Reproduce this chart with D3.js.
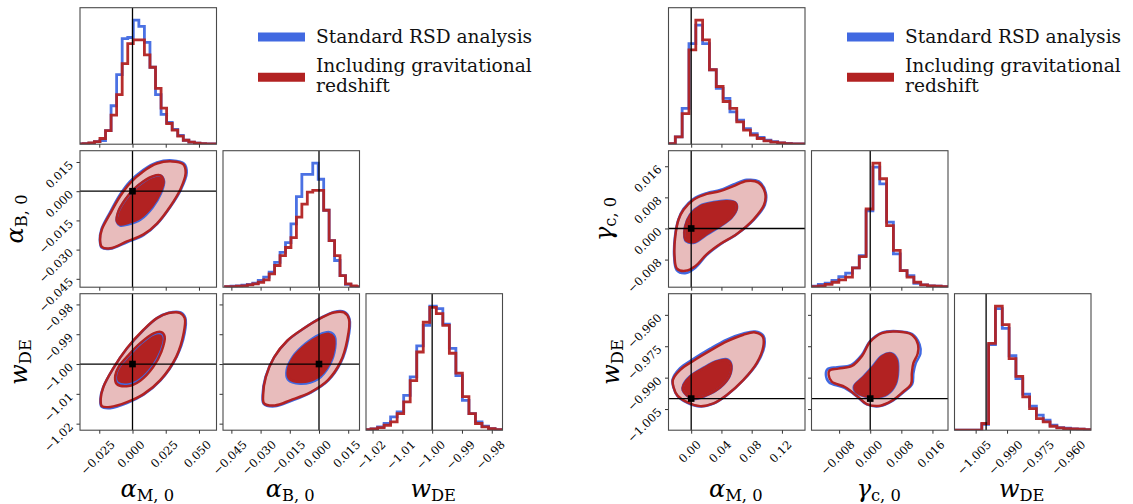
<!DOCTYPE html>
<html><head><meta charset="utf-8">
<script src="https://cdn.jsdelivr.net/npm/d3@7"></script>
<style>body{margin:0;background:#fff}svg{display:block}</style>
</head><body>
<svg id="c" width="1133" height="504"></svg>
<script>
// ---------------- DATA ----------------
// Left corner (alpha_M0, alpha_B0, w_DE)
const L_rangeAlphaM = [-0.0395, 0.0632];
const L_rangeAlphaB = [-0.0493, 0.0208];
const L_rangeW = [-1.0222, -0.9764];
const L_ticksAlphaM = [-0.025, 0.0, 0.025, 0.05];
const L_tickLabelsAlphaM = ["−0.025", "0.000", "0.025", "0.050"];
const L_ticksAlphaB = [-0.045, -0.03, -0.015, 0.0, 0.015];
const L_tickLabelsAlphaB = ["−0.045", "−0.030", "−0.015", "0.000", "0.015"];
const L_ticksW = [-1.02, -1.01, -1.00, -0.99, -0.98];
const L_tickLabelsW = ["−1.02", "−1.01", "−1.00", "−0.99", "−0.98"];
const L_truth = [0.0, 0.0, -1.0];

const L_histAlphaM_bins = {start: -0.0412, width: 0.00418};
const L_histAlphaM_blue = [0.003,0.005,0.008,0.02,0.03,0.11,0.31,0.56,0.85,0.86,1.0,0.95,0.82,0.62,0.40,0.24,0.175,0.12,0.07,0.032,0.016,0.008,0.005,0.003,0.002];
const L_histAlphaM_red  = [0.003,0.005,0.01,0.02,0.046,0.11,0.234,0.40,0.65,0.81,0.84,0.84,0.72,0.62,0.45,0.29,0.167,0.113,0.065,0.032,0.016,0.008,0.005,0.003,0.002];
const L_histAlphaB_bins = {start: -0.048, width: 0.0028};
const L_histAlphaB_blue = [0.005,0.008,0.011,0.016,0.022,0.032,0.054,0.081,0.121,0.20,0.28,0.36,0.51,0.73,0.91,0.91,1.0,0.87,0.62,0.376,0.215,0.094,0.022,0.005,0.003];
const L_histAlphaB_red  = [0.005,0.005,0.008,0.011,0.019,0.027,0.04,0.059,0.108,0.175,0.255,0.32,0.40,0.565,0.67,0.766,0.78,0.78,0.62,0.376,0.255,0.094,0.027,0.011,0.005];
const L_histW_bins = {start: -1.0227, width: 0.00219};
const L_histW_blue = [0.005,0.011,0.027,0.054,0.107,0.147,0.28,0.43,0.68,0.845,1.0,0.98,0.855,0.66,0.44,0.24,0.134,0.067,0.032,0.013,0.005];
const L_histW_red  = [0.005,0.011,0.021,0.040,0.067,0.134,0.228,0.40,0.63,0.87,0.99,0.94,0.845,0.62,0.46,0.27,0.134,0.054,0.027,0.013,0.005];

// contours (x, y) in data units
const L_AB_redOuter = [[-0.0244,-0.0248],[-0.0231,-0.0286],[-0.0168,-0.0293],[-0.0042,-0.0258],[0.0083,-0.0222],[0.0184,-0.0166],[0.0285,-0.0077],[0.0360,0.0009],[0.0400,0.0095],[0.0381,0.0139],[0.0298,0.0153],[0.0184,0.0142],[0.0083,0.0103],[-0.0017,0.0043],[-0.0093,-0.0026],[-0.0168,-0.0115],[-0.0231,-0.0197]];
const L_AB_blueOuter = [[-0.0246,-0.0250],[-0.0232,-0.0290],[-0.0168,-0.0296],[-0.0042,-0.0262],[0.0083,-0.0226],[0.0186,-0.0168],[0.0288,-0.0078],[0.0365,0.0009],[0.0408,0.0095],[0.0388,0.0142],[0.0300,0.0158],[0.0184,0.0148],[0.0080,0.0109],[-0.0022,0.0048],[-0.0098,-0.0022],[-0.0172,-0.0112],[-0.0234,-0.0196]];
const L_AB_redInner = [[-0.0093,-0.0171],[-0.0030,-0.0162],[0.0058,-0.0137],[0.0147,-0.0077],[0.0209,-0.0008],[0.0234,0.0051],[0.0209,0.0081],[0.0154,0.0077],[0.0083,0.0051],[0.0008,0.0009],[-0.0055,-0.0043],[-0.0106,-0.0103],[-0.0118,-0.0154]];
const L_AB_blueInner = [[-0.0093,-0.0176],[-0.0028,-0.0170],[0.0062,-0.0145],[0.0152,-0.0083],[0.0214,-0.0012],[0.0238,0.0050],[0.0212,0.0080],[0.0154,0.0075],[0.0083,0.0049],[0.0008,0.0007],[-0.0055,-0.0045],[-0.0106,-0.0105],[-0.0118,-0.0158]];

const L_AW_redOuter = [[-0.0231,-1.0141],[-0.0168,-1.0144],[-0.0042,-1.0128],[0.0083,-1.0101],[0.0209,-1.0054],[0.0330,-0.9975],[0.0385,-0.9897],[0.0393,-0.9846],[0.0360,-0.9829],[0.0272,-0.9829],[0.0184,-0.9846],[0.0083,-0.9885],[-0.0042,-0.9947],[-0.0144,-1.0014],[-0.0219,-1.0077],[-0.0239,-1.0116]];
const L_AW_blueOuter = [[-0.0233,-1.0143],[-0.0168,-1.0148],[-0.0042,-1.0131],[0.0083,-1.0103],[0.0209,-1.0056],[0.0333,-0.9975],[0.0392,-0.9897],[0.0398,-0.9846],[0.0362,-0.9827],[0.0272,-0.9828],[0.0184,-0.9846],[0.0083,-0.9886],[-0.0044,-0.9949],[-0.0147,-1.0016],[-0.0222,-1.0079],[-0.0242,-1.0118]];
const L_AW_redInner = [[-0.0118,-1.0067],[-0.0030,-1.0074],[0.0058,-1.0056],[0.0154,-1.0011],[0.0217,-0.9959],[0.0242,-0.9908],[0.0217,-0.9893],[0.0159,-0.9897],[0.0058,-0.9930],[-0.0030,-0.9970],[-0.0106,-1.0011],[-0.0131,-1.0045]];
const L_AW_blueInner = [[-0.0112,-1.0063],[-0.0030,-1.0069],[0.0056,-1.0052],[0.0150,-1.0008],[0.0212,-0.9958],[0.0236,-0.9910],[0.0214,-0.9897],[0.0159,-0.9900],[0.0058,-0.9933],[-0.0030,-0.9973],[-0.0103,-1.0012],[-0.0126,-1.0045]];

const L_BW_redOuter = [[-0.0282,-1.0132],[-0.0227,-1.0139],[-0.0145,-1.0121],[-0.0042,-1.0094],[0.0046,-1.0054],[0.0111,-0.9992],[0.0145,-0.9919],[0.0154,-0.9849],[0.0128,-0.9827],[0.0077,-0.9827],[0.0009,-0.9846],[-0.0077,-0.9880],[-0.0162,-0.9921],[-0.0230,-0.9977],[-0.0273,-1.0043],[-0.0287,-1.0104]];
const L_BW_blueOuter = [[-0.0284,-1.0134],[-0.0227,-1.0142],[-0.0145,-1.0124],[-0.0042,-1.0096],[0.0048,-1.0055],[0.0114,-0.9992],[0.0149,-0.9919],[0.0157,-0.9849],[0.0130,-0.9825],[0.0077,-0.9825],[0.0009,-0.9845],[-0.0077,-0.9880],[-0.0163,-0.9922],[-0.0231,-0.9978],[-0.0275,-1.0044],[-0.0290,-1.0106]];
const L_BW_redInner = [[-0.0154,-1.0048],[-0.0094,-1.0060],[-0.0008,-1.0045],[0.0051,-1.0000],[0.0077,-0.9947],[0.0074,-0.9910],[0.0051,-0.9899],[0.0000,-0.9908],[-0.0068,-0.9936],[-0.0128,-0.9975],[-0.0159,-1.0018]];
const L_BW_blueInner = [[-0.0160,-1.0052],[-0.0096,-1.0066],[-0.0006,-1.0051],[0.0056,-1.0002],[0.0083,-0.9946],[0.0080,-0.9906],[0.0054,-0.9893],[0.0000,-0.9902],[-0.0070,-0.9932],[-0.0133,-0.9974],[-0.0166,-1.0020]];

// Right corner (alpha_M0, gamma_c0, w_DE)
const R_rangeAlphaM = [-0.030, 0.1505];
const R_rangeGamma = [-0.0151, 0.0200];
const R_rangeW = [-1.0151, -0.9499];
const R_ticksAlphaM = [0.0, 0.04, 0.08, 0.12];
const R_tickLabelsAlphaM = ["0.00", "0.04", "0.08", "0.12"];
const R_ticksGamma = [-0.008, 0.0, 0.008, 0.016];
const R_tickLabelsGamma = ["−0.008", "0.000", "0.008", "0.016"];
const R_ticksW = [-1.005, -0.990, -0.975, -0.960];
const R_tickLabelsW = ["−1.005", "−0.990", "−0.975", "−0.960"];
const R_truth = [0.0, 0.0, -1.0];

const R_histAlphaM_bins = {start: -0.030, width: 0.009025};
const R_histAlphaM_blue = [0.005,0.059,0.288,0.81,0.96,0.81,0.60,0.45,0.37,0.26,0.194,0.126,0.086,0.054,0.032,0.02,0.011,0.006,0.003,0.003];
const R_histAlphaM_red  = [0.005,0.059,0.247,0.76,1.0,0.84,0.60,0.465,0.344,0.288,0.18,0.113,0.073,0.046,0.027,0.016,0.011,0.005,0.003,0.003];
const R_histGamma_bins = {start: -0.0151, width: 0.001755};
const R_histGamma_blue = [0.008,0.022,0.032,0.054,0.086,0.113,0.156,0.255,0.616,0.968,0.833,0.524,0.269,0.134,0.094,0.032,0.019,0.011,0.008,0.005];
const R_histGamma_red  = [0.005,0.011,0.022,0.04,0.059,0.081,0.156,0.247,0.63,1.0,0.874,0.497,0.296,0.134,0.081,0.040,0.019,0.011,0.008,0.005];
const R_histW_bins = {start: -1.0151, width: 0.00326};
const R_histW_blue = [0,0,0,0,0.048,0.69,0.98,0.82,0.60,0.416,0.29,0.193,0.121,0.08,0.04,0.021,0.016,0.011,0.008,0.005];
const R_histW_red  = [0,0,0,0,0.054,0.70,1.0,0.85,0.576,0.434,0.268,0.174,0.094,0.067,0.032,0.019,0.013,0.011,0.008,0.005];

const R_AG_redOuter = [[-0.0189,-0.0103],[-0.0079,-0.0109],[0.0053,-0.0097],[0.0207,-0.0066],[0.0383,-0.0040],[0.0603,-0.0014],[0.0823,0.0023],[0.0964,0.0061],[0.0977,0.0092],[0.0889,0.0118],[0.0735,0.0122],[0.0559,0.0109],[0.0383,0.0096],[0.0207,0.0089],[0.0031,0.0074],[-0.0101,0.0048],[-0.0167,0.0023],[-0.0211,-0.0021],[-0.0220,-0.0072]];
const R_AG_blueOuter = [[-0.0192,-0.0107],[-0.0079,-0.0115],[0.0055,-0.0101],[0.0207,-0.0068],[0.0383,-0.0041],[0.0603,-0.0015],[0.0828,0.0022],[0.0975,0.0061],[0.0985,0.0093],[0.0893,0.0121],[0.0735,0.0125],[0.0559,0.0113],[0.0383,0.0099],[0.0207,0.0091],[0.0027,0.0076],[-0.0103,0.0050],[-0.0170,0.0023],[-0.0215,-0.0021],[-0.0225,-0.0074]];
const R_AG_redInner = [[-0.0066,-0.0031],[0.0053,-0.0034],[0.0207,-0.0014],[0.0383,0.0007],[0.0537,0.0030],[0.0603,0.0053],[0.0581,0.0066],[0.0471,0.0070],[0.0295,0.0066],[0.0119,0.0057],[-0.0013,0.0035],[-0.0079,0.0005],[-0.0088,-0.0021]];
const R_AG_blueInner = [[-0.0068,-0.0033],[0.0053,-0.0036],[0.0207,-0.0016],[0.0383,0.0005],[0.0540,0.0029],[0.0607,0.0053],[0.0583,0.0067],[0.0471,0.0072],[0.0295,0.0068],[0.0119,0.0059],[-0.0015,0.0036],[-0.0082,0.0005],[-0.0091,-0.0022]];

const R_AW_redOuter = [[-0.0233,-0.9946],[-0.0181,-0.9986],[-0.0049,-1.0018],[0.0119,-1.0036],[0.0295,-1.0023],[0.0471,-0.9983],[0.0691,-0.9911],[0.0867,-0.9831],[0.0954,-0.9751],[0.0946,-0.9704],[0.0845,-0.9684],[0.0691,-0.9695],[0.0471,-0.9727],[0.0251,-0.9771],[0.0031,-0.9819],[-0.0145,-0.9863],[-0.0242,-0.9911]];
const R_AW_blueOuter = [[-0.0236,-0.9946],[-0.0183,-0.9987],[-0.0049,-1.0020],[0.0119,-1.0038],[0.0295,-1.0024],[0.0471,-0.9984],[0.0695,-0.9910],[0.0875,-0.9830],[0.0968,-0.9750],[0.0955,-0.9700],[0.0845,-0.9680],[0.0691,-0.9689],[0.0471,-0.9718],[0.0251,-0.9761],[0.0031,-0.9810],[-0.0150,-0.9856],[-0.0246,-0.9908]];
const R_AW_redInner = [[-0.0110,-0.9959],[0.0009,-0.9999],[0.0185,-0.9986],[0.0383,-0.9946],[0.0506,-0.9892],[0.0524,-0.9834],[0.0471,-0.9815],[0.0339,-0.9823],[0.0163,-0.9855],[-0.0013,-0.9895],[-0.0101,-0.9935]];
const R_AW_blueInner = [[-0.0112,-0.9960],[0.0009,-1.0001],[0.0185,-0.9988],[0.0385,-0.9947],[0.0510,-0.9892],[0.0528,-0.9833],[0.0473,-0.9812],[0.0339,-0.9820],[0.0163,-0.9852],[-0.0015,-0.9893],[-0.0104,-0.9934]];

const R_GW_redOuter = [[-0.0107,-0.9887],[-0.0099,-0.9919],[-0.0064,-0.9946],[-0.0034,-0.9988],[-0.0009,-1.0026],[0.0026,-1.0034],[0.0056,-1.0010],[0.0082,-0.9972],[0.0105,-0.9930],[0.0107,-0.9879],[0.0111,-0.9831],[0.0122,-0.9786],[0.0123,-0.9743],[0.0107,-0.9695],[0.0069,-0.9680],[0.0030,-0.9687],[0.0000,-0.9728],[-0.0021,-0.9796],[-0.0047,-0.9844],[-0.0082,-0.9857],[-0.0105,-0.9866]];
const R_GW_blueOuter = [[-0.0114,-0.9887],[-0.0106,-0.9922],[-0.0066,-0.9949],[-0.0034,-0.9990],[-0.0009,-1.0028],[0.0026,-1.0036],[0.0056,-1.0012],[0.0084,-0.9972],[0.0108,-0.9930],[0.0111,-0.9879],[0.0117,-0.9831],[0.0129,-0.9786],[0.0127,-0.9741],[0.0108,-0.9692],[0.0069,-0.9678],[0.0030,-0.9685],[-0.0001,-0.9727],[-0.0022,-0.9792],[-0.0050,-0.9840],[-0.0085,-0.9850],[-0.0110,-0.9860]];
const R_GW_redInner = [[-0.0040,-0.9940],[-0.0036,-0.9967],[-0.0013,-0.9988],[0.0013,-0.9994],[0.0043,-0.9978],[0.0064,-0.9930],[0.0070,-0.9866],[0.0067,-0.9812],[0.0053,-0.9786],[0.0030,-0.9799],[0.0007,-0.9850],[-0.0017,-0.9898]];
const R_GW_blueInner = [[-0.0042,-0.9941],[-0.0038,-0.9969],[-0.0013,-0.9990],[0.0013,-0.9996],[0.0045,-0.9979],[0.0066,-0.9930],[0.0072,-0.9865],[0.0069,-0.9810],[0.0054,-0.9783],[0.0030,-0.9796],[0.0005,-0.9848],[-0.0019,-0.9897]];

const legendLabels = ["Standard RSD analysis", ["Including gravitational", "redshift"]];

// ---------------- STYLE / LAYOUT ----------------
const BLUE = "#4169e1", RED = "#b22222", PINK = "#e8bcbc";
const SIZE = 136.5, STEP = 143, Y0 = 7.7;
const FONT = "'DejaVu Serif', serif";
const svg = d3.select("#c");
const defs = svg.append("defs");

const corners = [
  { name: "L", x0: 80, legendX: 258,
    params: [
      {range: L_rangeAlphaM, ticks: L_ticksAlphaM, labels: L_tickLabelsAlphaM, main: "α", sub: "M, 0"},
      {range: L_rangeAlphaB, ticks: L_ticksAlphaB, labels: L_tickLabelsAlphaB, main: "α", sub: "B, 0", yoff: 57},
      {range: L_rangeW, ticks: L_ticksW, labels: L_tickLabelsW, main: "w", sub: "DE", yoff: 53}],
    hists: [
      {...L_histAlphaM_bins, blue: L_histAlphaM_blue, red: L_histAlphaM_red},
      {...L_histAlphaB_bins, blue: L_histAlphaB_blue, red: L_histAlphaB_red},
      {...L_histW_bins, blue: L_histW_blue, red: L_histW_red}],
    contours: {
      "10": {redOuter: L_AB_redOuter, blueOuter: L_AB_blueOuter, redInner: L_AB_redInner, blueInner: L_AB_blueInner},
      "20": {redOuter: L_AW_redOuter, blueOuter: L_AW_blueOuter, redInner: L_AW_redInner, blueInner: L_AW_blueInner},
      "21": {redOuter: L_BW_redOuter, blueOuter: L_BW_blueOuter, redInner: L_BW_redInner, blueInner: L_BW_blueInner}},
    truth: L_truth },
  { name: "R", x0: 668.5, legendX: 847,
    params: [
      {range: R_rangeAlphaM, ticks: R_ticksAlphaM, labels: R_tickLabelsAlphaM, main: "α", sub: "M, 0"},
      {range: R_rangeGamma, ticks: R_ticksGamma, labels: R_tickLabelsGamma, main: "γ", sub: "c, 0", yoff: 57},
      {range: R_rangeW, ticks: R_ticksW, labels: R_tickLabelsW, main: "w", sub: "DE", yoff: 50}],
    hists: [
      {...R_histAlphaM_bins, blue: R_histAlphaM_blue, red: R_histAlphaM_red},
      {...R_histGamma_bins, blue: R_histGamma_blue, red: R_histGamma_red},
      {...R_histW_bins, blue: R_histW_blue, red: R_histW_red}],
    contours: {
      "10": {redOuter: R_AG_redOuter, blueOuter: R_AG_blueOuter, redInner: R_AG_redInner, blueInner: R_AG_blueInner},
      "20": {redOuter: R_AW_redOuter, blueOuter: R_AW_blueOuter, redInner: R_AW_redInner, blueInner: R_AW_blueInner},
      "21": {redOuter: R_GW_redOuter, blueOuter: R_GW_blueOuter, redInner: R_GW_redInner, blueInner: R_GW_blueInner}},
    truth: R_truth }
];

function axisLabel(g, main, sub, size) {
  g.append("tspan").attr("font-style", "italic").attr("font-size", size).text(main);
  g.append("tspan").attr("font-size", size * 0.68).attr("dy", size * 0.17).text(sub);
}

const TICKFS = 11.5;
function drawCorner(c) {
  const n = 3;
  const g = svg.append("g");
  for (let i = 0; i < n; i++) for (let j = 0; j <= i; j++) {
    const px = c.x0 + j * STEP, py = Y0 + i * STEP;
    const pj = c.params[j], pi = c.params[i];
    const x = d3.scaleLinear().domain(pj.range).range([px, px + SIZE]);
    const id = `clip-${c.name}-${i}-${j}`;
    defs.append("clipPath").attr("id", id).append("rect")
      .attr("x", px).attr("y", py).attr("width", SIZE).attr("height", SIZE);
    const inner = g.append("g").attr("clip-path", `url(#${id})`);
    let y = null;
    if (i === j) {
      const h = c.hists[i];
      const maxV = d3.max([...h.blue, ...h.red]);
      y = d3.scaleLinear().domain([0, 1.1 * maxV]).range([py + SIZE, py]);
      const step = d3.line().x(d => x(d[0])).y(d => y(d[1])).curve(d3.curveStepAfter);
      [["blue", BLUE], ["red", RED]].forEach(([k, col]) => {
        const vals = h[k];
        const pts = [[h.start, 0]];
        vals.forEach((v, b) => pts.push([h.start + b * h.width, v]));
        const end = h.start + vals.length * h.width;
        pts.push([end, vals[vals.length - 1]]);
        pts.push([end, 0]);
        inner.append("path").attr("d", step(pts)).attr("fill", "none")
          .attr("stroke", col).attr("stroke-width", 2.8).attr("stroke-opacity", 0.95);
      });
      inner.append("line").attr("x1", x(c.truth[j])).attr("x2", x(c.truth[j]))
        .attr("y1", py).attr("y2", py + SIZE).attr("stroke", "#000").attr("stroke-width", 1.3);
    } else {
      y = d3.scaleLinear().domain(pi.range).range([py + SIZE, py]);
      const ct = c.contours[`${i}${j}`];
      const line = d3.line().x(d => x(d[0])).y(d => y(d[1])).curve(d3.curveCatmullRomClosed.alpha(0.5));
      inner.append("path").attr("d", line(ct.redOuter)).attr("fill", PINK);
      inner.append("path").attr("d", line(ct.redInner)).attr("fill", RED);
      [ct.blueOuter, ct.blueInner].forEach(d => inner.append("path").attr("d", line(d))
        .attr("fill", "none").attr("stroke", BLUE).attr("stroke-width", 2.5));
      [ct.redOuter, ct.redInner].forEach(d => inner.append("path").attr("d", line(d))
        .attr("fill", "none").attr("stroke", RED).attr("stroke-width", 2.5));
      const tx = x(c.truth[j]), ty = y(c.truth[i]);
      inner.append("line").attr("x1", tx).attr("x2", tx).attr("y1", py).attr("y2", py + SIZE)
        .attr("stroke", "#000").attr("stroke-width", 1.3);
      inner.append("line").attr("y1", ty).attr("y2", ty).attr("x1", px).attr("x2", px + SIZE)
        .attr("stroke", "#000").attr("stroke-width", 1.3);
      inner.append("rect").attr("x", tx - 3.3).attr("y", ty - 3.3).attr("width", 6.6).attr("height", 6.6).attr("fill", "#000");
      // left ticks
      const ya = g.append("g").attr("transform", `translate(${px},0)`)
        .call(d3.axisLeft(y).tickValues(pi.ticks).tickSize(3.5).tickFormat(() => ""));
      ya.select(".domain").remove();
      ya.selectAll(".tick line").attr("stroke", "#333");
      if (j === 0) {
        pi.ticks.forEach((t, k) => {
          g.append("text").attr("font-family", FONT).attr("font-size", TICKFS)
            .attr("text-anchor", "end").attr("dominant-baseline", "central")
            .attr("transform", `translate(${px - 9},${y(t) + 1}) rotate(-45)`)
            .text(pi.labels[k]);
        });
      }
    }
    // frame
    g.append("rect").attr("x", px).attr("y", py).attr("width", SIZE).attr("height", SIZE)
      .attr("fill", "none").attr("stroke", "#4a4a4a").attr("stroke-width", 1.1);
    // bottom ticks
    const xa = g.append("g").attr("transform", `translate(0,${py + SIZE})`)
      .call(d3.axisBottom(x).tickValues(pj.ticks).tickSize(3.5).tickFormat(() => ""));
    xa.select(".domain").remove();
    xa.selectAll(".tick line").attr("stroke", "#333");
    if (i === n - 1) {
      pj.ticks.forEach((t, k) => {
        const tEl = g.append("text").attr("font-family", FONT).attr("font-size", TICKFS)
          .attr("text-anchor", "middle").attr("dominant-baseline", "central").text(pj.labels[k]);
        const L = tEl.node().getComputedTextLength();
        const half = (L + 0.8 * TICKFS) / (2 * Math.SQRT2);
        tEl.attr("transform", `translate(${x(t) - 1.5},${py + SIZE + 9 + half}) rotate(-45)`);
      });
      const lab = g.append("text").attr("font-family", FONT).attr("text-anchor", "middle")
        .attr("x", px + SIZE / 2 - 1).attr("y", 497);
      axisLabel(lab, pj.main, pj.sub, 24);
    }
    if (j === 0 && i > 0) {
      const lab = g.append("text").attr("font-family", FONT).attr("text-anchor", "middle")
        .attr("transform", `translate(${px - pi.yoff},${py + SIZE / 2}) rotate(-90)`);
      axisLabel(lab, pi.main, pi.sub, 24);
    }
  }
  // legend
  const lg = svg.append("g").attr("font-family", FONT).attr("font-size", 18.6);
  lg.append("line").attr("x1", c.legendX).attr("x2", c.legendX + 47).attr("y1", 37).attr("y2", 37)
    .attr("stroke", BLUE).attr("stroke-width", 9);
  lg.append("line").attr("x1", c.legendX).attr("x2", c.legendX + 47).attr("y1", 77.3).attr("y2", 77.3)
    .attr("stroke", RED).attr("stroke-width", 9);
  lg.append("text").attr("x", c.legendX + 58).attr("y", 43.3).attr("fill", "#111").text(legendLabels[0]);
  lg.append("text").attr("x", c.legendX + 58).attr("y", 72.3).attr("fill", "#111").text(legendLabels[1][0]);
  lg.append("text").attr("x", c.legendX + 58).attr("y", 92).attr("fill", "#111").text(legendLabels[1][1]);
}
corners.forEach(drawCorner);
</script>
</body></html>
